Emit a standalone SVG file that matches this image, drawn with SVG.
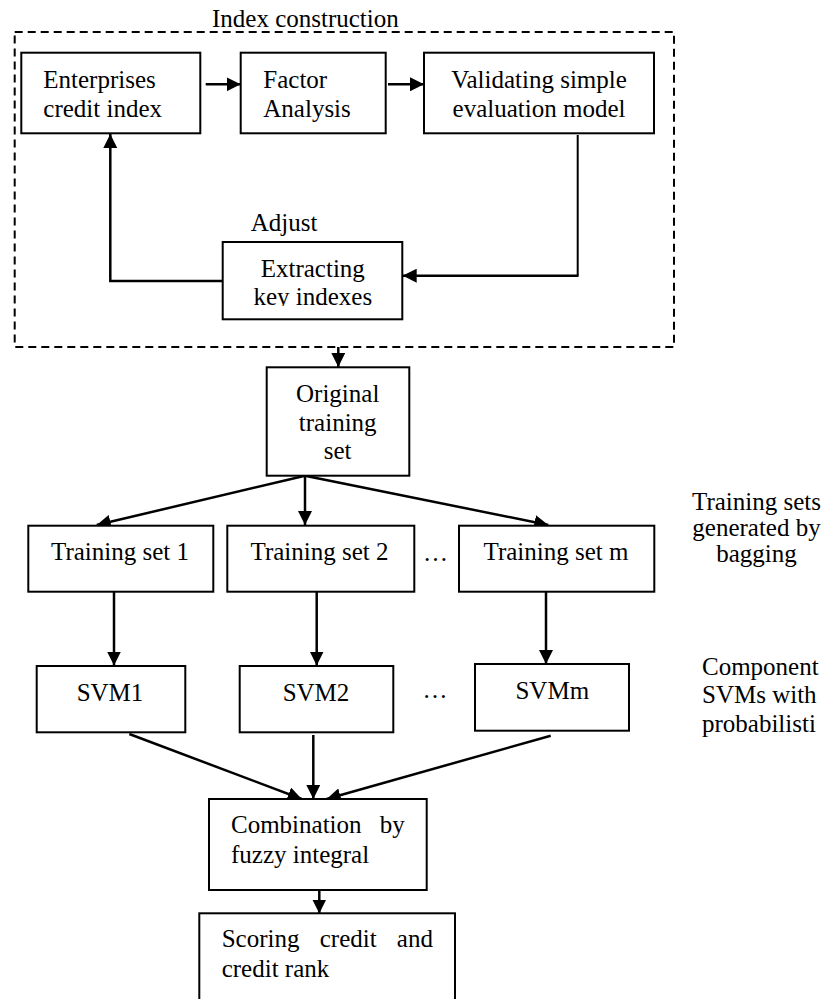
<svg xmlns="http://www.w3.org/2000/svg" width="822" height="999" viewBox="0 0 822 999">
<style>
text{font-family:"Liberation Serif","Times New Roman",serif;font-size:25px;fill:#000}
.box{fill:#fff;stroke:#000;stroke-width:2}
.c{text-anchor:middle}
.ln{fill:none;stroke:#000;stroke-width:2.5}
.dash{fill:none;stroke:#000;stroke-width:2;stroke-dasharray:8 5}
</style>
<defs>
<marker id="ah" markerUnits="userSpaceOnUse" markerWidth="14" markerHeight="14" refX="14" refY="7" orient="auto">
<path d="M0,0 L14,7 L0,14 z" fill="#000"/>
</marker>
<clipPath id="clipExt"><rect x="222" y="240" width="182" height="66"/></clipPath>
</defs>
<rect width="822" height="999" fill="#fff"/>

<g id="index-construction">
<rect class="dash" x="14.7" y="32" width="659.3" height="315"/>
<text x="212" y="27">Index construction</text>
</g>

<g id="connectors">
<line class="ln" x1="205.7" y1="84.3" x2="240.7" y2="84.3" marker-end="url(#ah)"/>
<line class="ln" x1="388" y1="84.3" x2="424" y2="84.3" marker-end="url(#ah)"/>
<polyline class="ln" style="stroke-width:2" points="577.7,135 577.7,275.7"/>
<line class="ln" x1="578.5" y1="275.7" x2="402.7" y2="275.7" marker-end="url(#ah)"/>
<polyline class="ln" points="222.7,281 110.3,281 110.3,134" marker-end="url(#ah)"/>
<line class="ln" x1="338.3" y1="347" x2="338.3" y2="367" marker-end="url(#ah)"/>
<line class="ln" x1="305" y1="475.7" x2="96.7" y2="525" marker-end="url(#ah)"/>
<line class="ln" x1="305" y1="475.7" x2="305" y2="525" marker-end="url(#ah)"/>
<line class="ln" x1="305" y1="475.7" x2="548.3" y2="525" marker-end="url(#ah)"/>
<line class="ln" x1="114" y1="591.7" x2="114" y2="665.5" marker-end="url(#ah)"/>
<line class="ln" x1="316.7" y1="591.7" x2="316.7" y2="665.5" marker-end="url(#ah)"/>
<line class="ln" x1="546" y1="591.7" x2="546" y2="664" marker-end="url(#ah)"/>
<line class="ln" x1="129.3" y1="734" x2="301.7" y2="799" marker-end="url(#ah)"/>
<line class="ln" x1="313.3" y1="735" x2="313.3" y2="799" marker-end="url(#ah)"/>
<line class="ln" x1="550.7" y1="735.7" x2="326.7" y2="799" marker-end="url(#ah)"/>
<line class="ln" x1="319.3" y1="876.7" x2="319.3" y2="913.5" marker-end="url(#ah)"/>
</g>

<g id="enterprises-credit-index">
<rect class="box" x="21.3" y="52.7" width="179" height="80.6"/>
<text x="43.3" y="88.3">Enterprises</text>
<text x="43.3" y="116.7">credit index</text>
</g>

<g id="factor-analysis">
<rect class="box" x="240.7" y="52.7" width="145" height="80.6"/>
<text x="263.3" y="88.3">Factor</text>
<text x="263.3" y="116.7">Analysis</text>
</g>

<g id="validating-model">
<rect class="box" x="424" y="52.7" width="230" height="80.6"/>
<text class="c" x="539" y="88.3">Validating simple</text>
<text class="c" x="539" y="116.7">evaluation model</text>
</g>

<g id="extracting-key-indexes">
<text x="250.7" y="231">Adjust</text>
<rect class="box" x="222.7" y="242" width="179.6" height="77.3"/>
<g clip-path="url(#clipExt)">
<text class="c" x="312.8" y="276.7">Extracting</text>
<text class="c" x="312.8" y="305">key indexes</text>
</g>
</g>

<g id="original-training-set">
<rect class="box" x="266.7" y="367.3" width="142.6" height="108.4"/>
<text class="c" x="337.7" y="401.7">Original</text>
<text class="c" x="337.7" y="430.5">training</text>
<text class="c" x="337.7" y="459">set</text>
</g>

<g id="training-set-1">
<rect class="box" x="28.3" y="525.7" width="185" height="66"/>
<text class="c" x="120" y="560">Training set 1</text>
</g>

<g id="training-set-2">
<rect class="box" x="227.3" y="525.7" width="187" height="66"/>
<text class="c" x="319.5" y="560">Training set 2</text>
</g>

<g id="dots-1"><text x="423" y="561">…</text></g>

<g id="training-set-m">
<rect class="box" x="459" y="525.7" width="195.3" height="66"/>
<text class="c" x="556" y="560">Training set m</text>
</g>

<g id="label-bagging">
<text class="c" x="756.5" y="510">Training sets</text>
<text class="c" x="756.5" y="536">generated by</text>
<text class="c" x="756.5" y="562">bagging</text>
</g>

<g id="svm1">
<rect class="box" x="36.7" y="666" width="148.6" height="66.3"/>
<text class="c" x="110" y="700.7">SVM1</text>
</g>

<g id="svm2">
<rect class="box" x="239.7" y="666" width="153.6" height="66.3"/>
<text class="c" x="316" y="700.7">SVM2</text>
</g>

<g id="dots-2"><text x="422.5" y="698">…</text></g>

<g id="svmm">
<rect class="box" x="475" y="664" width="154" height="66.7"/>
<text class="c" x="552.3" y="699.3">SVMm</text>
</g>

<g id="label-component">
<text x="702" y="675">Component</text>
<text x="702" y="703.3">SVMs with</text>
<text x="702" y="731.5">probabilisti</text>
</g>

<g id="combination">
<rect class="box" x="209" y="799" width="217.7" height="91"/>
<text x="231" y="832.7" word-spacing="12">Combination by</text>
<text x="231" y="862.7">fuzzy integral</text>
</g>

<g id="scoring">
<rect class="box" x="199.3" y="913.3" width="255.7" height="100"/>
<text x="221.7" y="947.3" word-spacing="14">Scoring credit and</text>
<text x="221.7" y="976.7">credit rank</text>
</g>
</svg>
